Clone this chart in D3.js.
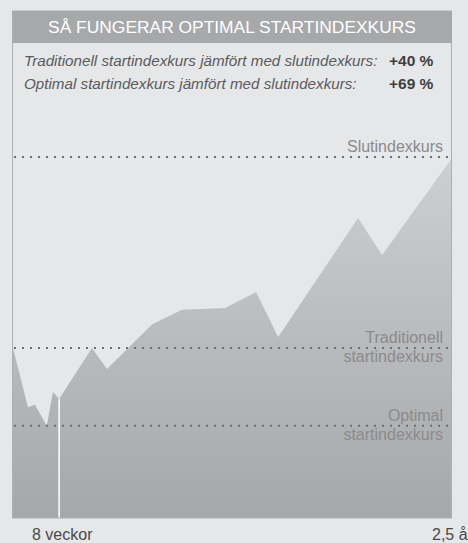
<!DOCTYPE html>
<html><head><meta charset="utf-8">
<script src="https://cdn.jsdelivr.net/npm/d3@7"></script>
<style>html,body{margin:0;padding:0;background:#e6e7e8;overflow:hidden}svg{display:block}</style>
</head><body>
<script>
// Data (time as share of the 2.5-year period, index value with traditional start = 100)
const periods = [0, 3.4, 5.0, 7.7, 9.1, 10.5, 18.0, 21.4, 31.7, 38.5, 48.3, 55.4, 60.4, 78.6, 84.1, 100];
const indexValues = [100, 87.6, 88.1, 83.7, 90.8, 89.3, 100, 95.6, 105.0, 108.0, 108.4, 111.7, 102.3, 127.2, 119.5, 139.8];
const refNames = ["Slutindexkurs", "Traditionell|startindexkurs", "Optimal|startindexkurs"];
const refValues = [140, 100, 83.7];
const optimalStartPeriod = 10.5;
const xLabels = ["8 veckor", "2,5 år"];
const title = "SÅ FUNGERAR OPTIMAL STARTINDEXKURS";
const compareLabels = ["Traditionell startindexkurs jämfört med slutindexkurs:", "Optimal startindexkurs jämfört med slutindexkurs:"];
const compareValues = ["+40 %", "+69 %"];

const W = 468, H = 543;
const box = {l: 12.5, r: 451.5, t: 11, b: 518};
const svg = d3.select("body").append("svg").attr("width", W).attr("height", H);

const x = d3.scaleLinear().domain([0, 100]).range([13, 452]);
const y = d3.scaleLinear().domain([64.4, 140]).range([518, 157]);

const defs = svg.append("defs");
const grad = defs.append("linearGradient").attr("id", "g").attr("gradientUnits", "userSpaceOnUse")
  .attr("x1", 0).attr("x2", 0).attr("y1", 157).attr("y2", 518);
grad.append("stop").attr("offset", 0).attr("stop-color", "#cecfd0");
grad.append("stop").attr("offset", 1).attr("stop-color", "#a6a7a9");

const pts = periods.map((p, i) => [p, indexValues[i]]);
const area = d3.area().x(d => x(d[0])).y0(y(64.4)).y1(d => y(d[1]));
svg.append("path").datum(pts).attr("d", area).attr("fill", "url(#g)");

// white marker at optimal start
const optV = indexValues[periods.indexOf(optimalStartPeriod)];
svg.append("line").attr("x1", x(optimalStartPeriod)).attr("x2", x(optimalStartPeriod))
  .attr("y1", y(optV)).attr("y2", y(64.4)).attr("stroke", "#ffffff").attr("stroke-width", 1.5);

// dotted reference lines
refValues.forEach((v, i) => {
  svg.append("line").attr("x1", 14).attr("x2", 452).attr("y1", y(v)).attr("y2", y(v))
    .attr("stroke", "#6d6e70").attr("stroke-width", 2).attr("stroke-dasharray", "2,6");
  const parts = refNames[i].split("|");
  const t = svg.append("text").attr("x", 443).attr("text-anchor", "end")
    .attr("font-family", "Liberation Sans, Arial, sans-serif").attr("font-size", 16).attr("fill", "#8a8b8d");
  if (parts.length === 1) {
    t.attr("y", y(v) - 5).text(parts[0]);
  } else {
    t.append("tspan").attr("x", 443).attr("y", y(v) - 5).text(parts[0]);
    t.append("tspan").attr("x", 443).attr("y", y(v) + 14).text(parts[1]);
  }
});

// box border
svg.append("rect").attr("x", box.l).attr("y", box.t).attr("width", box.r - box.l).attr("height", box.b - box.t)
  .attr("fill", "none").attr("stroke", "#aeafb1").attr("stroke-width", 1);
// header
svg.append("rect").attr("x", box.l).attr("y", box.t).attr("width", box.r - box.l + 0.5).attr("height", 32)
  .attr("fill", "#a7a8aa");
svg.append("text").attr("x", 232).attr("y", 33).attr("text-anchor", "middle")
  .attr("font-family", "Liberation Sans, Arial, sans-serif").attr("font-size", 17.4).attr("fill", "#ffffff")
  .text(title);

compareLabels.forEach((s, i) => {
  svg.append("text").attr("x", 24).attr("y", 66 + i * 23)
    .attr("font-family", "Liberation Sans, Arial, sans-serif").attr("font-style", "italic")
    .attr("font-size", 15.2).attr("fill", "#5a5b5d").text(s);
  svg.append("text").attr("x", 389).attr("y", 66 + i * 23)
    .attr("font-family", "Liberation Sans, Arial, sans-serif").attr("font-weight", "bold")
    .attr("font-size", 15.5).attr("fill", "#3e3e40").text(compareValues[i]);
});

// x labels
svg.append("text").attr("x", 32).attr("y", 540).attr("font-family", "Liberation Sans, Arial, sans-serif")
  .attr("font-size", 16).attr("fill", "#4a4a4c").text(xLabels[0]);
svg.append("text").attr("x", 432).attr("y", 540).attr("font-family", "Liberation Sans, Arial, sans-serif")
  .attr("font-size", 16).attr("fill", "#4a4a4c").text(xLabels[1]);
</script>
</body></html>
